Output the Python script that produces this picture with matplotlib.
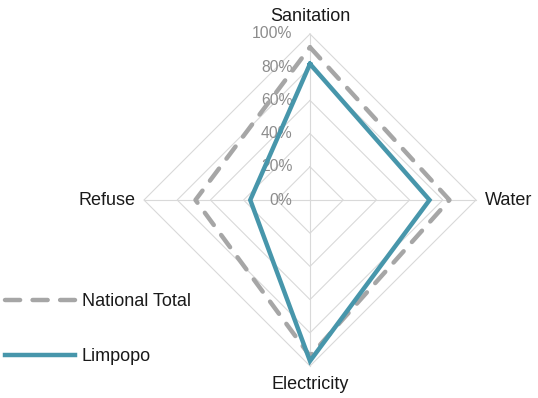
import numpy as np
import matplotlib
matplotlib.use("Agg")
import matplotlib.pyplot as plt

plt.rcParams['font.family'] = ['Liberation Sans', 'DejaVu Sans']

# data (share of households)
categories = ["Sanitation", "Water", "Electricity", "Refuse"]
national = [0.92, 0.84, 0.94, 0.69]
limpopo = [0.82, 0.72, 0.97, 0.36]
tick_levels = [0.0, 0.2, 0.4, 0.6, 0.8, 1.0]
tick_labels = ["0%", "20%", "40%", "60%", "80%", "100%"]

teal = "#4796AB"
grey = "#A6A6A6"
grid_col = "#D9D9D9"

# angles clockwise from the top
angles = np.array([0, 0.5, 1.0, 1.5]) * np.pi


def to_xy(vals):
    vals = np.asarray(vals, dtype=float)
    x = vals * np.sin(angles)
    y = vals * np.cos(angles)
    return np.append(x, x[0]), np.append(y, y[0])


W, H = 538, 398
cx, cy, R = 310, 200, 166  # centre and radius in pixels

fig = plt.figure(figsize=(W / 100, H / 100), dpi=100)
ax = fig.add_axes([0, 0, 1, 1])
ax.set_xlim(-cx / R, (W - cx) / R)
ax.set_ylim(-(H - cy) / R, cy / R)
ax.axis("off")

# grid rings and spokes
for lvl in tick_levels[1:]:
    gx, gy = to_xy([lvl] * 4)
    ax.plot(gx, gy, color=grid_col, lw=0.8, zorder=1)
for a in angles:
    ax.plot([0, np.sin(a)], [0, np.cos(a)], color=grid_col, lw=0.8, zorder=1)

# tick labels along the vertical axis
for lvl, lab in zip(tick_levels, tick_labels):
    ax.text(-0.105, lvl, lab, ha="right", va="center", fontsize=11.3,
            color="#8C8C8C", zorder=2)

# series
nx, ny = to_xy(national)
ax.plot(nx, ny, color=grey, lw=3.2, dashes=(3.4, 2.8), dash_capstyle="round",
        label="National Total", zorder=3)
lx, ly = to_xy(limpopo)
ax.plot(lx, ly, color=teal, lw=3.2, solid_joinstyle="miter",
        label="Limpopo", zorder=4)

# category labels
lab_col = "#1A1A1A"
ax.text(0, 1.105, categories[0], ha="center", va="center", fontsize=13, color=lab_col)
ax.text(1.055, 0, categories[1], ha="left", va="center", fontsize=13, color=lab_col)
ax.text(0, -1.113, categories[2], ha="center", va="center", fontsize=13, color=lab_col)
ax.text(-1.05, 0, categories[3], ha="right", va="center", fontsize=13, color=lab_col)

fig.legend(loc="upper left", bbox_to_anchor=(5 / W, 1 - 293 / H), frameon=False,
           fontsize=13, handlelength=3.9, handletextpad=0.35, labelspacing=2.1,
           borderpad=0, borderaxespad=0, labelcolor=lab_col)

fig.savefig("out.png", dpi=100)
